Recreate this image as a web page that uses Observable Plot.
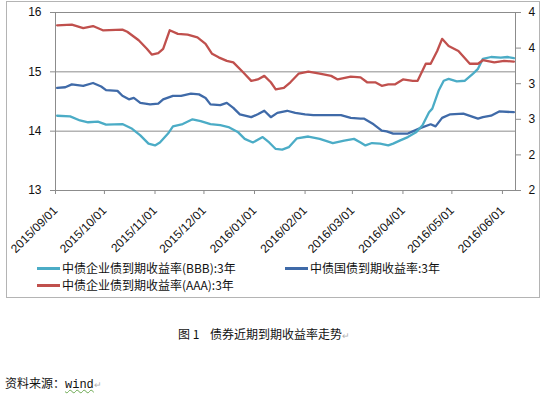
<!DOCTYPE html>
<html>
<head>
<meta charset="utf-8">
<script src="https://cdn.jsdelivr.net/npm/d3@7"></script>
<script src="https://cdn.jsdelivr.net/npm/@observablehq/plot@0.6"></script>
<style>
  html, body { margin: 0; padding: 0; background: #fff; }
  #page { position: relative; width: 550px; height: 397px; background: #fff; overflow: hidden;
          font-family: "Noto Sans CJK SC", "Liberation Sans", sans-serif; color: #111; }
  #box { position: absolute; left: 6px; top: 1px; width: 532px; height: 295px; border: 1px solid #b4b4b4; }
  #chart { position: absolute; left: 0; top: 0; }
  .leg { position: absolute; font-size: 12px; line-height: 14px; white-space: nowrap; color: #111; }
  .sw { position: absolute; width: 23px; height: 2.5px; }
  .mark { color: #b0b0b0; font-size: 9px; }
  #cap { position: absolute; left: 178px; top: 325px; font-size: 12px; white-space: pre; color: #111; }
  #src { position: absolute; left: 5px; top: 374px; font-size: 12px; white-space: nowrap; color: #111; }
  #src .w { font-family: "Liberation Mono", "DejaVu Sans Mono", monospace; text-decoration: underline wavy #6aa84f; text-decoration-thickness: 1px; }
</style>
</head>
<body>
<div id="page">
  <div id="box"></div>
  <div id="chart"></div>
  <div class="sw" id="sw0" style="left:37px; top:267px;"></div>
  <div class="leg" id="lg0" style="left:62px; top:261px;"></div>
  <div class="sw" id="sw1" style="left:285px; top:267px;"></div>
  <div class="leg" id="lg1" style="left:310px; top:261px;"></div>
  <div class="sw" id="sw2" style="left:37px; top:284px;"></div>
  <div class="leg" id="lg2" style="left:62px; top:278px;"></div>
  <div id="cap">图 1    债券近期到期收益率走势<span class="mark">↵</span></div>
  <div id="src">资料来源：<span class="w">wind</span><span class="mark">↵</span></div>
</div>
<script>
// ---- Data ----
const seriesNames = ["中债企业债到期收益率(BBB):3年", "中债国债到期收益率:3年", "中债企业债到期收益率(AAA):3年"];
const seriesColors = ["#4bacc6", "#3f6aa8", "#c0504d"];

// BBB (left axis)
const bbbDates = ["2015-09-02","2015-09-10","2015-09-16","2015-09-21","2015-09-27","2015-10-02","2015-10-12","2015-10-18","2015-10-23","2015-10-28","2015-11-01","2015-11-04","2015-11-09","2015-11-12","2015-11-18","2015-11-24","2015-11-29","2015-12-05","2015-12-11","2015-12-16","2015-12-22","2015-12-26","2015-12-31","2016-01-06","2016-01-10","2016-01-14","2016-01-18","2016-01-22","2016-01-27","2016-02-03","2016-02-10","2016-02-18","2016-02-25","2016-03-02","2016-03-06","2016-03-09","2016-03-13","2016-03-18","2016-03-23","2016-03-26","2016-03-30","2016-04-04","2016-04-09","2016-04-13","2016-04-17","2016-04-19","2016-04-23","2016-04-26","2016-04-29","2016-05-04","2016-05-09","2016-05-14","2016-05-17","2016-05-20","2016-05-25","2016-05-31","2016-06-04","2016-06-08"];
const bbbValues = [14.26,14.25,14.18,14.15,14.16,14.11,14.12,14.04,13.93,13.79,13.76,13.81,13.96,14.08,14.12,14.20,14.17,14.12,14.10,14.07,13.98,13.87,13.81,13.90,13.81,13.70,13.69,13.73,13.88,13.91,13.87,13.80,13.84,13.87,13.81,13.76,13.80,13.79,13.76,13.79,13.84,13.90,13.98,14.10,14.32,14.38,14.69,14.85,14.88,14.84,14.85,14.97,15.05,15.22,15.25,15.24,15.25,15.23];

// Treasury (right axis)
const govDates = ["2015-09-02","2015-09-07","2015-09-11","2015-09-18","2015-09-24","2015-09-29","2015-10-02","2015-10-09","2015-10-12","2015-10-16","2015-10-19","2015-10-23","2015-10-29","2015-11-03","2015-11-06","2015-11-12","2015-11-17","2015-11-23","2015-11-28","2015-12-02","2015-12-05","2015-12-11","2015-12-15","2015-12-19","2015-12-23","2015-12-30","2016-01-03","2016-01-07","2016-01-11","2016-01-15","2016-01-21","2016-01-26","2016-02-01","2016-02-06","2016-02-15","2016-02-23","2016-02-29","2016-03-06","2016-03-08","2016-03-14","2016-03-19","2016-03-22","2016-03-26","2016-04-04","2016-04-07","2016-04-12","2016-04-18","2016-04-21","2016-04-25","2016-04-30","2016-05-08","2016-05-17","2016-05-20","2016-05-25","2016-05-30","2016-06-08"];
const govValues = [2.94,2.95,2.99,2.97,3.01,2.96,2.91,2.90,2.83,2.78,2.80,2.73,2.71,2.72,2.78,2.83,2.83,2.86,2.85,2.80,2.71,2.70,2.73,2.66,2.57,2.53,2.57,2.62,2.53,2.59,2.62,2.59,2.57,2.56,2.56,2.56,2.52,2.51,2.51,2.43,2.34,2.33,2.30,2.30,2.33,2.38,2.43,2.40,2.52,2.57,2.58,2.51,2.53,2.55,2.61,2.60];

// AAA (right axis)
const aaaDates = ["2015-09-02","2015-09-11","2015-09-18","2015-09-24","2015-09-30","2015-10-12","2015-10-15","2015-10-22","2015-10-27","2015-10-30","2015-11-03","2015-11-06","2015-11-10","2015-11-15","2015-11-21","2015-11-27","2015-12-02","2015-12-06","2015-12-10","2015-12-15","2015-12-19","2015-12-25","2015-12-30","2016-01-03","2016-01-07","2016-01-11","2016-01-14","2016-01-19","2016-01-23","2016-01-28","2016-02-03","2016-02-10","2016-02-17","2016-02-21","2016-02-29","2016-03-06","2016-03-10","2016-03-15","2016-03-19","2016-03-23","2016-03-27","2016-04-01","2016-04-07","2016-04-10","2016-04-15","2016-04-18","2016-04-22","2016-04-25","2016-04-29","2016-05-05","2016-05-12","2016-05-17","2016-05-20","2016-05-27","2016-06-02","2016-06-08"];
const aaaValues = [3.82,3.83,3.78,3.81,3.75,3.76,3.73,3.61,3.49,3.41,3.43,3.49,3.75,3.70,3.69,3.65,3.56,3.42,3.37,3.32,3.30,3.16,3.04,3.06,3.11,3.02,2.92,2.94,3.02,3.14,3.17,3.14,3.11,3.06,3.10,3.09,3.02,3.02,2.97,2.99,2.99,3.06,3.04,3.04,3.28,3.28,3.46,3.63,3.53,3.46,3.28,3.28,3.33,3.30,3.32,3.31];

// Axes / tick labels
const leftTicks = [13, 14, 15, 16];
const leftTickLabels = ["13", "14", "15", "16"];
const rightTicks = [1.5, 2, 2.5, 3, 3.5, 4];
const rightTickLabels = ["2", "2", "3", "3", "4", "4"];
const xTicks = ["2015-09-01","2015-10-01","2015-11-01","2015-12-01","2016-01-01","2016-02-01","2016-03-01","2016-04-01","2016-05-01","2016-06-01"];
const xDomain = ["2015-09-01", "2016-06-09"];
const leftDomain = [13, 16];
const rightDomain = [1.5, 4];

// ---- Build ----
const parse = d3.utcParse("%Y-%m-%d");
const toLeft = v => leftDomain[0] + (v - rightDomain[0]) * (leftDomain[1] - leftDomain[0]) / (rightDomain[1] - rightDomain[0]);

const bbb = bbbValues.map((v, i) => ({date: parse(bbbDates[i]), y: v}));
const gov = govValues.map((v, i) => ({date: parse(govDates[i]), y: toLeft(v)}));
const aaa = aaaValues.map((v, i) => ({date: parse(aaaDates[i]), y: toLeft(v)}));
const rightPos = rightTicks.map(toLeft);

const gray = "#8c8c8c";
const chart = Plot.plot({
  width: 550,
  height: 250,
  marginLeft: 55,
  marginRight: 35,
  marginTop: 12,
  marginBottom: 60,
  style: {fontFamily: "'Liberation Sans', Arial, sans-serif", fontSize: "12px", color: "#111", background: "transparent", overflow: "visible"},
  x: {type: "utc", domain: xDomain.map(parse)},
  y: {domain: leftDomain},
  marks: [
    Plot.ruleY([14, 15], {stroke: gray, strokeWidth: 1}),
    Plot.frame({stroke: gray, strokeWidth: 1}),
    Plot.axisY(leftTicks, {anchor: "left", tickSize: 5, tickPadding: 9, stroke: gray, fill: "#111", label: null,
      tickFormat: (d, i) => leftTickLabels[i]}),
    Plot.axisY(rightPos, {anchor: "right", tickSize: 5, tickPadding: 8, stroke: gray, fill: "#111", label: null,
      tickFormat: (d, i) => rightTickLabels[i]}),
    Plot.axisX(xTicks.map(parse), {anchor: "bottom", tickSize: 4, tickPadding: 14, tickRotate: -45, stroke: gray, fill: "#111", label: null,
      tickFormat: d3.utcFormat("%Y/%m/%d")}),
    Plot.line(gov, {x: "date", y: "y", stroke: seriesColors[1], strokeWidth: 2.3, curve: "linear"}),
    Plot.line(bbb, {x: "date", y: "y", stroke: seriesColors[0], strokeWidth: 2.3, curve: "linear"}),
    Plot.line(aaa, {x: "date", y: "y", stroke: seriesColors[2], strokeWidth: 2.3, curve: "linear"})
  ]
});
document.getElementById("chart").appendChild(chart);

// Legend
[0, 1, 2].forEach(i => {
  document.getElementById("sw" + i).style.background = seriesColors[i];
  document.getElementById("lg" + i).textContent = seriesNames[i];
});
</script>
</body>
</html>
